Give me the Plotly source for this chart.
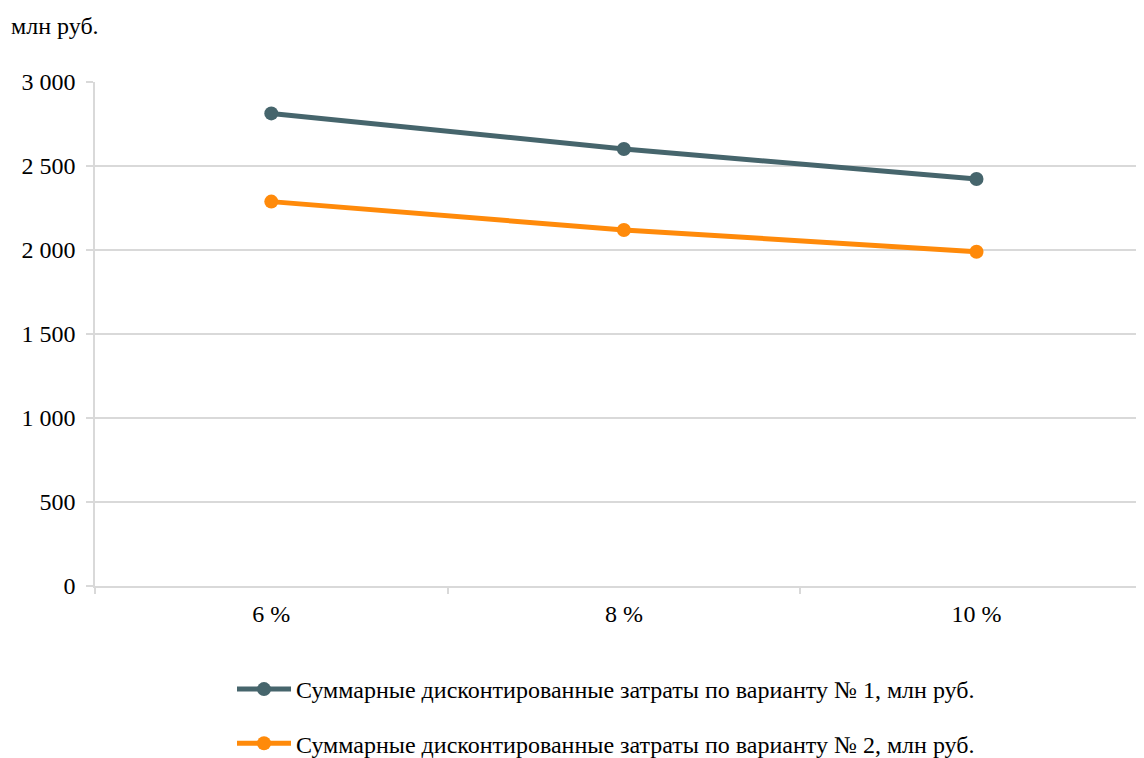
import plotly.graph_objects as go

categories = ["6 %", "8 %", "10 %"]
series1_name = "Суммарные дисконтированные затраты по варианту № 1, млн руб."
series2_name = "Суммарные дисконтированные затраты по варианту № 2, млн руб."
series1 = [2813, 2601, 2423]
series2 = [2288, 2119, 1990]
y_ticks = [0, 500, 1000, 1500, 2000, 2500, 3000]
unit_label = "млн руб."

# page has an 8px body margin; figure coordinates are page - 8
W, H = 1136, 750
L, R, T, B = 87, 0, 74, 172
FONT = "Liberation Serif, Times New Roman, serif"
FS = 24

fig = go.Figure()
fig.add_trace(go.Scatter(x=categories, y=series1, name=series1_name, mode="lines+markers",
                         line=dict(color="#46656C", width=5), marker=dict(size=14, color="#46656C"),
                         legendgroup="a"))
fig.add_trace(go.Scatter(x=categories, y=series2, name=series2_name, mode="lines+markers",
                         line=dict(color="#FF8A0A", width=5), marker=dict(size=14, color="#FF8A0A"),
                         legendgroup="b"))

PW = W - L - R
PH = H - T - B
fig.update_layout(
    width=W, height=H,
    margin=dict(l=L, r=R, t=T, b=B, autoexpand=False),
    plot_bgcolor="white", paper_bgcolor="white",
    font=dict(family=FONT, size=FS, color="#000000"),
    separators=", ",
    showlegend=True,
    legend=dict(orientation="v", xref="container", yref="container",
                x=(598) / W, xanchor="center",
                y=1 - (659) / H, yanchor="top",
                traceorder="grouped", tracegroupgap=20, itemwidth=54,
                font=dict(family=FONT, size=FS, color="#000000")),
    xaxis=dict(type="category", range=[-0.5, 2.475], showgrid=False,
               showline=True, linecolor="#d9d9d9", linewidth=1.5,
               ticks="outside", tickson="boundaries", ticklen=6, tickcolor="#d9d9d9",
               tickwidth=1.5, ticklabelstandoff=5, zeroline=False),
    yaxis=dict(range=[0, 3000], tickvals=y_ticks, tickformat=",d",
               showgrid=True, gridcolor="#d9d9d9", gridwidth=1.5,
               showline=True, linecolor="#d9d9d9", linewidth=1.5,
               ticks="outside", ticklen=7, tickcolor="#d9d9d9", tickwidth=1.5,
               ticklabelstandoff=6, zeroline=False),
)

fig.add_annotation(text=unit_label, xref="paper", yref="paper",
                   x=(1 - L) / PW, y=1 + (T - 18) / PH,
                   xanchor="left", yanchor="middle", showarrow=False,
                   font=dict(family=FONT, size=FS, color="#000000"))

fig.write_html("out.html")
